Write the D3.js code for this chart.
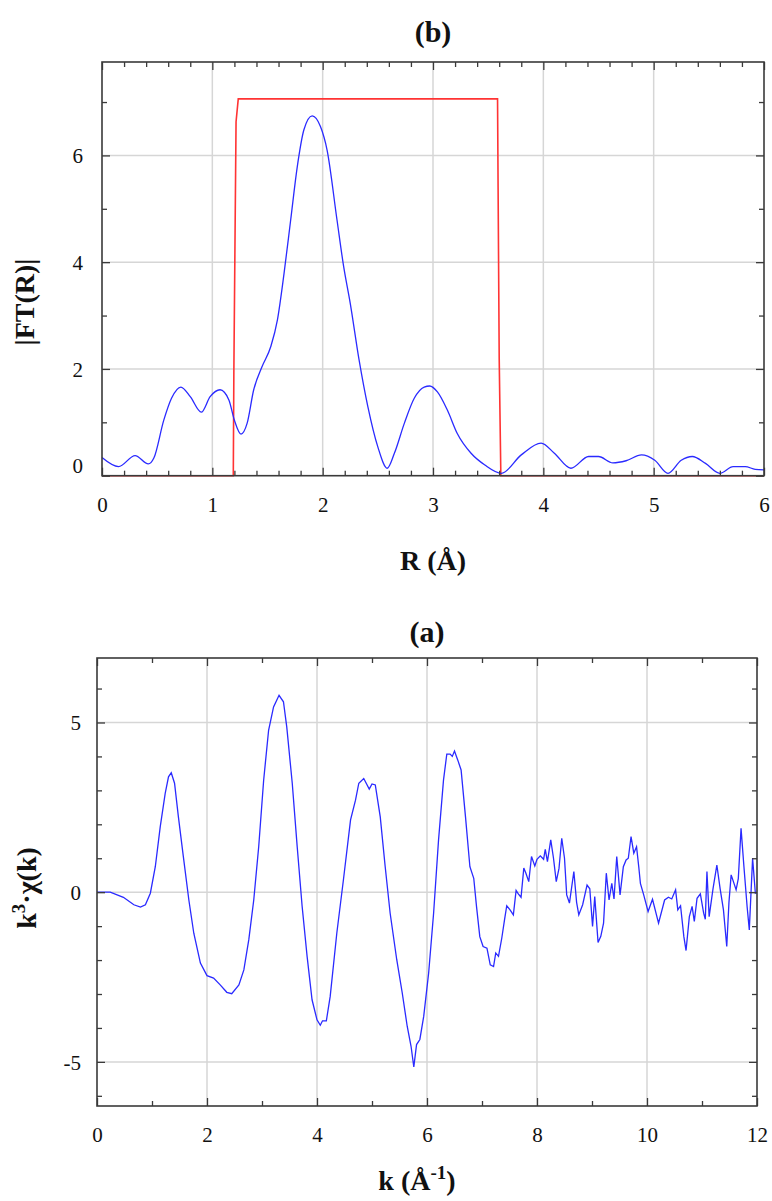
<!DOCTYPE html>
<html>
<head>
<meta charset="utf-8">
<script src="https://cdn.jsdelivr.net/npm/d3@7"></script>
<style>
  html, body { margin: 0; padding: 0; background: #fff; }
  svg { display: block; }
  svg text { font-family: "Liberation Serif", "Times New Roman", serif !important; fill: #111; }
</style>
</head>
<body>
<svg id="chart" width="772" height="1201" font-family="Liberation Serif, serif"></svg>
<script>
// ---------- Panel (b): Fourier transform magnitude ----------
const rValues = [0, 0.15, 0.30, 0.42, 0.47, 0.56, 0.63, 0.715, 0.80, 0.90, 0.98, 1.07, 1.15, 1.20, 1.26, 1.315, 1.375, 1.45, 1.53, 1.59, 1.65, 1.71, 1.77, 1.83, 1.905, 1.98, 2.04, 2.13, 2.19, 2.25, 2.33, 2.41, 2.50, 2.585, 2.65, 2.74, 2.83, 2.92, 2.97, 3.04, 3.13, 3.22, 3.345, 3.47, 3.62, 3.80, 3.98, 4.10, 4.25, 4.41, 4.50, 4.63, 4.75, 4.89, 5.01, 5.13, 5.25, 5.35, 5.47, 5.60, 5.72, 5.83, 5.92, 6.0];
const ftValues = [0.34, 0.17, 0.375, 0.22, 0.33, 1.04, 1.45, 1.66, 1.48, 1.19, 1.48, 1.61, 1.42, 1.04, 0.78, 0.98, 1.61, 2.04, 2.42, 2.92, 3.79, 4.79, 5.79, 6.48, 6.74, 6.54, 6.10, 4.79, 3.92, 3.23, 2.17, 1.29, 0.54, 0.14, 0.42, 0.98, 1.45, 1.66, 1.68, 1.57, 1.23, 0.79, 0.42, 0.20, 0.045, 0.39, 0.61, 0.42, 0.14, 0.36, 0.36, 0.24, 0.28, 0.39, 0.29, 0.045, 0.29, 0.36, 0.23, 0.045, 0.17, 0.17, 0.12, 0.11];
const windowR = [0, 1.19, 1.195, 1.205, 1.215, 1.235, 3.585, 3.59, 3.60, 3.615, 6.0];
const windowValues = [0, 0, 1.92, 4.29, 6.63, 7.06, 7.06, 5.4, 2.2, 0, 0];
const rTicks = [0, 1, 2, 3, 4, 5, 6];
const ftTicks = [0, 2, 4, 6];

// ---------- Panel (a): k^3-weighted chi(k) ----------
const kValues = [0, 0.24, 0.48, 0.67, 0.79, 0.88, 0.97, 1.06, 1.15, 1.24, 1.30, 1.35, 1.41, 1.48, 1.57, 1.67, 1.76, 1.88, 2.00, 2.12, 2.24, 2.36, 2.45, 2.58, 2.67, 2.76, 2.85, 2.94, 3.03, 3.12, 3.21, 3.31, 3.39, 3.45, 3.55, 3.64, 3.73, 3.82, 3.91, 4.00, 4.06, 4.10, 4.17, 4.24, 4.36, 4.48, 4.61, 4.70, 4.76, 4.85, 4.95, 5.00, 5.06, 5.15, 5.24, 5.33, 5.45, 5.55, 5.64, 5.71, 5.76, 5.81, 5.87, 5.94, 6.03, 6.12, 6.21, 6.30, 6.36, 6.42, 6.46, 6.50, 6.56, 6.62, 6.70, 6.78, 6.85, 6.90, 6.96, 7.02, 7.09, 7.15, 7.21, 7.25, 7.30, 7.36, 7.41, 7.45, 7.51, 7.57, 7.62, 7.66, 7.71, 7.76, 7.80, 7.85, 7.90, 7.96, 8.00, 8.06, 8.12, 8.15, 8.19, 8.25, 8.30, 8.35, 8.40, 8.45, 8.50, 8.54, 8.59, 8.67, 8.72, 8.76, 8.83, 8.91, 8.96, 9.01, 9.05, 9.11, 9.16, 9.21, 9.26, 9.31, 9.36, 9.40, 9.45, 9.51, 9.57, 9.62, 9.66, 9.71, 9.76, 9.81, 9.85, 9.88, 9.94, 10.02, 10.10, 10.21, 10.32, 10.39, 10.45, 10.52, 10.56, 10.61, 10.67, 10.71, 10.77, 10.82, 10.86, 10.91, 10.97, 11.03, 11.06, 11.09, 11.13, 11.20, 11.27, 11.33, 11.39, 11.45, 11.49, 11.53, 11.62, 11.66, 11.71, 11.76, 11.82, 11.86, 11.92, 11.97, 12.0];
const chiValues = [0, 0, -0.15, -0.37, -0.44, -0.37, -0.03, 0.75, 1.93, 2.91, 3.40, 3.52, 3.21, 2.22, 1.05, -0.23, -1.21, -2.09, -2.46, -2.53, -2.73, -2.95, -2.99, -2.73, -2.29, -1.40, -0.23, 1.34, 3.30, 4.77, 5.46, 5.80, 5.61, 4.87, 3.21, 1.34, -0.42, -1.89, -3.17, -3.76, -3.92, -3.79, -3.79, -3.07, -1.21, 0.36, 2.13, 2.71, 3.21, 3.35, 3.04, 3.19, 3.16, 2.22, 0.75, -0.62, -1.99, -2.97, -3.95, -4.54, -5.15, -4.49, -4.34, -3.66, -2.38, -0.62, 1.54, 3.30, 4.07, 4.07, 4.00, 4.16, 3.89, 3.60, 2.22, 0.75, 0.41, -0.42, -1.31, -1.60, -1.65, -2.14, -2.19, -1.79, -1.89, -1.35, -0.81, -0.40, -0.52, -0.67, 0.05, -0.05, -0.15, 0.71, 0.55, 0.31, 1.05, 0.77, 0.97, 1.07, 0.97, 1.26, 0.90, 1.54, 1.0, 0.31, 0.7, 1.59, 1.0, -0.08, -0.32, 0.61, -0.3, -0.67, -0.37, 0.21, 0.1, -1.01, -0.13, -1.48, -1.3, -0.91, 0.56, -0.23, 0.26, -0.2, 1.05, -0.08, 0.75, 0.95, 1.0, 1.64, 1.15, 1.34, 0.75, 0.26, -0.08, -0.57, -0.21, -0.91, -0.23, -0.15, -0.2, 0.07, -0.52, -0.4, -1.31, -1.72, -0.72, -0.42, -0.86, -0.18, -0.05, -0.62, -0.8, 0.61, -0.72, 0.1, 0.80, 0.1, -0.52, -1.60, -0.3, 0.51, 0.07, 0.4, 1.88, 0.8, -0.42, -1.11, 1.0, -0.03, 0.0];
const kTicks = [0, 2, 4, 6, 8, 10, 12];
const chiTicks = [-5, 0, 5];

const FONT = "Liberation Serif, Times New Roman, serif";
const svg = d3.select("#chart");
const AXIS = "#3a3a3a", GRID = "#d6d6d6", BLUE = "#2a2aff", RED = "#ff3333";

function drawPanel(cfg) {
  const { x, y, xMajor, xMinor, yMajor, yMinor, title, titleY } = cfg;
  const [x0, x1] = x.range();
  const [y0, y1] = y.range(); // y0 bottom, y1 top
  const g = svg.append("g");

  // grid
  g.append("g").selectAll("line").data(xMajor.filter(v => v > x.domain()[0] && v < x.domain()[1]))
    .join("line").attr("x1", d => x(d)).attr("x2", d => x(d)).attr("y1", y1).attr("y2", y0)
    .attr("stroke", GRID).attr("stroke-width", 1.5);
  g.append("g").selectAll("line").data(cfg.yGrid)
    .join("line").attr("y1", d => y(d)).attr("y2", d => y(d)).attr("x1", x0).attr("x2", x1)
    .attr("stroke", GRID).attr("stroke-width", 1.5);

  const dataG = g.append("g");

  // frame + inward ticks via d3 axes
  const maj = 8, mnr = 5;
  const mk = (axisFn, scale, vals, len) => axisFn(scale).tickValues(vals).tickSize(len).tickFormat("");
  const addAxis = (axis, tx, ty) => {
    const a = g.append("g").attr("transform", `translate(${tx},${ty})`).call(axis);
    a.select(".domain").remove();
    a.selectAll("line").attr("stroke", AXIS).attr("stroke-width", 1.3);
    return a;
  };
  addAxis(mk(d3.axisTop, x, xMajor, maj), 0, y0);
  addAxis(mk(d3.axisTop, x, xMinor, mnr), 0, y0);
  addAxis(mk(d3.axisBottom, x, xMajor, maj), 0, y1);
  addAxis(mk(d3.axisBottom, x, xMinor, mnr), 0, y1);
  addAxis(mk(d3.axisRight, y, yMajor, maj), x0, 0);
  addAxis(mk(d3.axisRight, y, yMinor, mnr), x0, 0);
  addAxis(mk(d3.axisLeft, y, yMajor, maj), x1, 0);
  addAxis(mk(d3.axisLeft, y, yMinor, mnr), x1, 0);

  g.append("rect").attr("x", x0).attr("y", y1).attr("width", x1 - x0).attr("height", y0 - y1)
    .attr("fill", "none").attr("stroke", AXIS).attr("stroke-width", 1.6);

  // tick labels
  const fmt = d => String(d);
  const xl = d3.axisBottom(x).tickValues(xMajor).tickSize(0).tickPadding(0).tickFormat(fmt);
  const xla = g.append("g").attr("transform", `translate(0,${y0 + 36})`).call(xl)
    .attr("font-family", FONT).attr("font-size", 21);
  xla.select(".domain").remove();
  xla.selectAll("text").attr("font-size", 21).attr("dy", 0).attr("y", 0)
    .attr("font-family", FONT).attr("fill", "#111");

  const yl = d3.axisLeft(y).tickValues(yMajor).tickSize(0).tickPadding(0).tickFormat(fmt);
  const yla = g.append("g").attr("transform", `translate(${cfg.yLabelX},0)`).call(yl)
    .attr("font-family", FONT).attr("font-size", 21);
  yla.select(".domain").remove();
  yla.selectAll("text").attr("font-size", 21).attr("dy", "0.35em")
    .attr("font-family", FONT).attr("fill", "#111");
  if (cfg.zeroShift) yla.selectAll("text").filter(d => d === 0).attr("transform", `translate(0,${cfg.zeroShift})`);

  svg.append("text").attr("x", (x0 + x1) / 2).attr("y", titleY).attr("text-anchor", "middle")
    .attr("font-family", FONT).attr("font-size", 30).attr("font-weight", "bold").text(title);

  return dataG;
}

// ----- panel (b) -----
const xR = d3.scaleLinear().domain([0, 6]).range([102, 764]);
const yF = d3.scaleLinear().domain([0, 7.75]).range([475.7, 62]);
const gB = drawPanel({
  x: xR, y: yF,
  xMajor: rTicks, xMinor: d3.range(0, 6.001, 0.2).filter(v => Math.abs(v - Math.round(v)) > 1e-6),
  yMajor: ftTicks, yMinor: [1, 3, 5, 7], yGrid: [2, 4, 6],
  yLabelX: 83, zeroShift: -11, title: "(b)", titleY: 42
});
gB.append("path")
  .datum(windowR.map((r, i) => [r, windowValues[i]]))
  .attr("fill", "none").attr("stroke", RED).attr("stroke-width", 1.6)
  .attr("d", d3.line().x(d => xR(d[0])).y(d => yF(d[1])));
gB.append("path")
  .datum(rValues.map((r, i) => [r, ftValues[i]]))
  .attr("fill", "none").attr("stroke", BLUE).attr("stroke-width", 1.3)
  .attr("d", d3.line().curve(d3.curveMonotoneX).x(d => xR(d[0])).y(d => yF(d[1])));

svg.append("text").attr("transform", "translate(34,302) rotate(-90)").attr("text-anchor", "middle")
  .attr("font-family", FONT).attr("font-size", 28).attr("font-weight", "bold").text("|FT(R)|");
svg.append("text").attr("x", 433).attr("y", 570).attr("text-anchor", "middle")
  .attr("font-family", FONT).attr("font-size", 28).attr("font-weight", "bold").text("R (Å)");

// ----- panel (a) -----
const xK = d3.scaleLinear().domain([0, 12]).range([97, 757]);
const yC = d3.scaleLinear().domain([-6.3, 6.9]).range([1106, 658]);
const gA = drawPanel({
  x: xK, y: yC,
  xMajor: kTicks, xMinor: [1, 3, 5, 7, 9, 11],
  yMajor: chiTicks, yMinor: [-6, -4, -3, -2, -1, 1, 2, 3, 4, 6], yGrid: [-5, 0, 5],
  yLabelX: 81, zeroShift: 0, title: "(a)", titleY: 642
});
gA.append("path")
  .datum(kValues.map((k, i) => [k, chiValues[i]]))
  .attr("fill", "none").attr("stroke", BLUE).attr("stroke-width", 1.3)
  .attr("d", d3.line().x(d => xK(d[0])).y(d => yC(d[1])));

const yLab = svg.append("text").attr("transform", "translate(36,888) rotate(-90)").attr("text-anchor", "middle")
  .attr("font-family", FONT).attr("font-size", 28).attr("font-weight", "bold");
yLab.append("tspan").text("k");
yLab.append("tspan").attr("font-size", 19).attr("dy", -11).text("3");
yLab.append("tspan").attr("dy", 11).text("·χ(k)");

const xLab = svg.append("text").attr("x", 417).attr("y", 1190).attr("text-anchor", "middle")
  .attr("font-family", FONT).attr("font-size", 28).attr("font-weight", "bold");
xLab.append("tspan").text("k (Å");
xLab.append("tspan").attr("font-size", 19).attr("dy", -11).text("-1");
xLab.append("tspan").attr("dy", 11).text(")");
</script>
</body>
</html>
